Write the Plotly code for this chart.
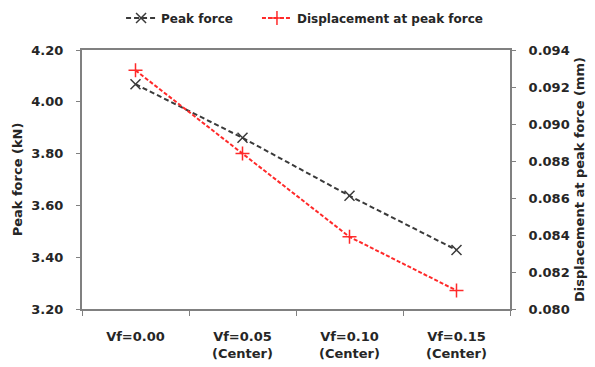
import plotly.graph_objects as go

categories = ["Vf=0.00", "Vf=0.05<br>(Center)", "Vf=0.10<br>(Center)", "Vf=0.15<br>(Center)"]
peak_force = [4.068, 3.861, 3.637, 3.428]
displacement = [0.0929, 0.0884, 0.0839, 0.0810]

FONT = "DejaVu Sans, sans-serif"
axis_col = "#808080"
txt_col = "#262626"

fig = go.Figure()
fig.add_trace(go.Scatter(
    x=categories, y=peak_force, name="<b>Peak force</b>&nbsp;&nbsp;&nbsp;&nbsp;&nbsp;", mode="lines+markers",
    line=dict(color="#3a3a3a", width=2, dash="5px,3px"),
    marker=dict(symbol="x-thin-open", size=10, line=dict(color="#3a3a3a", width=1.5)),
    yaxis="y"))
fig.add_trace(go.Scatter(
    x=categories, y=displacement, name="<b>Displacement at peak force</b>", mode="lines+markers",
    line=dict(color="#ff2a2a", width=2, dash="4px,2px"),
    marker=dict(symbol="cross-thin-open", size=10, line=dict(color="#ff2a2a", width=1.5)),
    yaxis="y2"))

tick_font = dict(size=13, family=FONT, weight="bold", color=txt_col)

fig.update_layout(
    width=595, height=367,
    margin=dict(l=82, r=85, t=50, b=58, autoexpand=False),
    paper_bgcolor="white", plot_bgcolor="white",
    font=dict(family=FONT, size=13, color=txt_col),
    showlegend=True,
    legend=dict(orientation="h", x=0.52, xanchor="center", y=1 - 18 / 367, yanchor="middle",
                yref="container", font=dict(size=12, family=FONT, color=txt_col), itemwidth=30),
    xaxis=dict(type="category", categoryarray=categories, showline=True, linecolor=axis_col,
               linewidth=2, mirror=True, ticks="outside", tickson="boundaries", ticklen=5,
               tickcolor=axis_col, tickfont=tick_font, showgrid=False, range=[-0.5, 3.5],
               ticklabelstandoff=14, automargin=False),
    yaxis=dict(range=[3.2, 4.2], dtick=0.2, tickformat=".2f", showline=True, linecolor=axis_col,
               linewidth=2, ticks="outside", ticklen=4, tickcolor=axis_col, showgrid=False,
               zeroline=False, tickfont=tick_font, ticklabelstandoff=10, automargin=False,
               title=dict(text="<b>Peak force (kN)</b>", font=dict(size=13, color=txt_col),
                          standoff=6)),
    yaxis2=dict(range=[0.080, 0.094], dtick=0.002, tickformat=".3f", overlaying="y", side="right",
                showline=True, linecolor=axis_col, linewidth=2, ticks="outside", ticklen=4,
                tickcolor=axis_col, showgrid=False, zeroline=False, tickfont=tick_font,
                ticklabelstandoff=10, automargin=False,
                title=dict(text="<b>Displacement at peak force (mm)</b>",
                           font=dict(size=13, color=txt_col), standoff=6)),
)

fig.write_html("out.html")
